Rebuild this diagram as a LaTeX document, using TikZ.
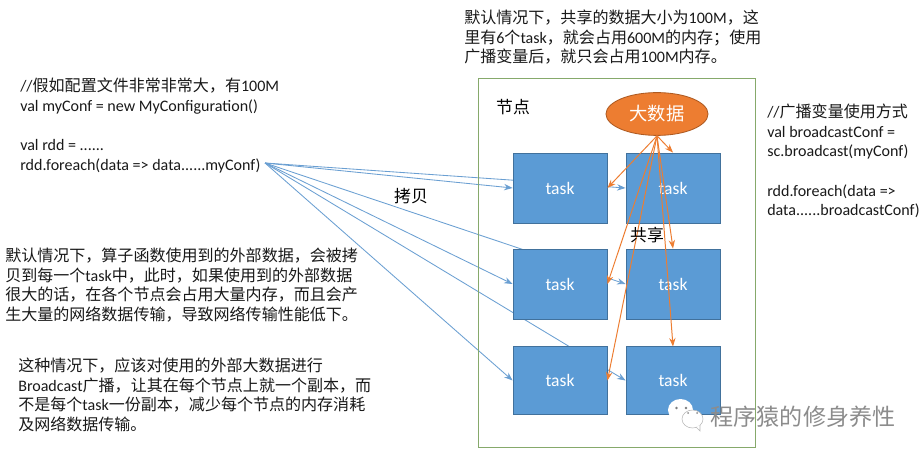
\documentclass[tikz,border=0pt]{standalone}
\usepackage{fontspec}
\setmainfont{Carlito}
\newfontfamily\cjk{Noto Sans CJK SC}
\usetikzlibrary{arrows.meta,backgrounds,shapes.geometric}
\definecolor{taskblue}{HTML}{5B9BD5}
\definecolor{taskline}{HTML}{41719C}
\definecolor{copyblue}{HTML}{6A9FD2}
\definecolor{bigorange}{HTML}{ED7D31}
\definecolor{bigline}{HTML}{AE5A21}
\definecolor{framegreen}{HTML}{86A96B}
\definecolor{markgray}{HTML}{8C8C8C}
\newcommand{\zh}[1]{{\cjk #1}}
\tikzset{
  taskbox/.style={draw=taskline,fill=taskblue,text=white,line width=0.6pt,
    minimum width=2.35cm,minimum height=1.75cm,inner sep=0pt,font=\fontsize{12.5}{15}\selectfont},
  note/.style={anchor=north west,align=left,inner sep=0pt,text=black!90,
    font=\fontsize{11.4}{13.9}\selectfont},
  copyline/.style={draw=copyblue,line width=0.6pt,-{Stealth[length=6pt,width=4.5pt]}},
  shareline/.style={draw=bigorange,line width=0.7pt,-{Stealth[length=6pt,width=4.5pt]}},
  bubble/.style={draw=markgray!60,fill=white,line width=0.4pt},
}
\begin{document}
\begin{tikzpicture}[x=0.025cm,y=-0.025cm]
    \useasboundingbox (0,0) rectangle (924,457);
    \node[draw=framegreen,line width=0.7pt,minimum width=6.9cm,minimum height=9.2cm,inner sep=0pt] (frame) at (617,263) {};
    % tasks
    \foreach \name/\x/\y in {ta/560/188,tb/673/188,tc/560/284,td/673/284}
      \node[taskbox] (\name) at (\x,\y) {task};
    \node[taskbox,minimum height=1.68cm] (te) at (560,380.5) {task};
    \node[taskbox,minimum height=1.68cm] (tf) at (673,380.5) {task};
    \node[ellipse,draw=bigline,fill=bigorange,text=white,line width=0.6pt,minimum width=2.55cm,minimum height=1.07cm,inner sep=0pt,font=\fontsize{13}{16}\selectfont] (big) at (657,114) {\zh{大数据}};
    \coordinate (src) at (265,163);

    \begin{scope}[on background layer]
      \fill[white] (0,0) rectangle (924,457);
      \foreach \name in {ta,tb,tc,td,te,tf}
        \draw[copyline] (src) -- (\name.west);
    \end{scope}
    \foreach \name in {tb,td,tf}
      \draw[shareline] (big.south) -- (\name.north);
    \foreach \name in {ta,tc,te}
      \draw[shareline] (big.south) -- (\name.east);

    \node[font=\fontsize{12}{14}\selectfont] (jiedian) at (513,107) {\zh{节点}};
    \node[font=\fontsize{12}{14}\selectfont] (gongxiang) at (647,235) {\zh{共享}};
    \node[font=\fontsize{12}{14}\selectfont] (kaobei) at (411,196) {\zh{拷贝}};

    \node[note] (toptext) at (464,10) {\zh{默认情况下，共享的数据大小为}100M\zh{，这}\\
      \zh{里有}6\zh{个}task\zh{，就会占用}600M\zh{的内存；使用}\\
      \zh{广播变量后，就只会占用}100M\zh{内存。}};
    \node[note] (conftext) at (20,78) {//\zh{假如配置文件非常非常大，有}100M\\
      val myConf = new MyConfiguration()\\[13.9pt]
      val rdd = ......\\
      rdd.foreach(data =\textgreater{} data......myConf)};
    \node[note] (bctext) at (767,104) {//\zh{广播变量使用方式}\\
      val broadcastConf =\\
      sc.broadcast(myConf)\\[13.9pt]
      rdd.foreach(data =\textgreater\\
      data......broadcastConf)};
    \node[note] (copytext) at (5,248) {\zh{默认情况下，算子函数使用到的外部数据，会被拷}\\
      \zh{贝到每一个}task\zh{中，此时，如果使用到的外部数据}\\
      \zh{很大的话，在各个节点会占用大量内存，而且会产}\\
      \zh{生大量的网络数据传输，导致网络传输性能低下。}};
    \node[note] (fixtext) at (18,358) {\zh{这种情况下，应该对使用的外部大数据进行}\\
      Broadcast\zh{广播，让其在每个节点上就一个副本，而}\\
      \zh{不是每个}task\zh{一份副本，减少每个节点的内存消耗}\\
      \zh{及网络数据传输。}};

    % watermark
    \fill[white] (672,417) -- (676,424) -- (681,419) -- cycle;
    \draw[draw=none,fill=white] (680.5,410) ellipse (12.5 and 11);
    \fill[markgray!90!black] (676.5,408) circle (1.3) (686,408) circle (1.3);
    \draw[bubble] (692.5,419) ellipse (10.5 and 9);
    \draw[bubble] (696,427) -- (700,431) -- (700,425);
    \fill[markgray] (688,413) circle (1) (697,413) circle (1);
    \node[text=markgray,font=\cjk\fontsize{16.4}{18}\selectfont,inner sep=0pt] (mark) at (803,417) {程序猿的修身养性};
\end{tikzpicture}
\end{document}
